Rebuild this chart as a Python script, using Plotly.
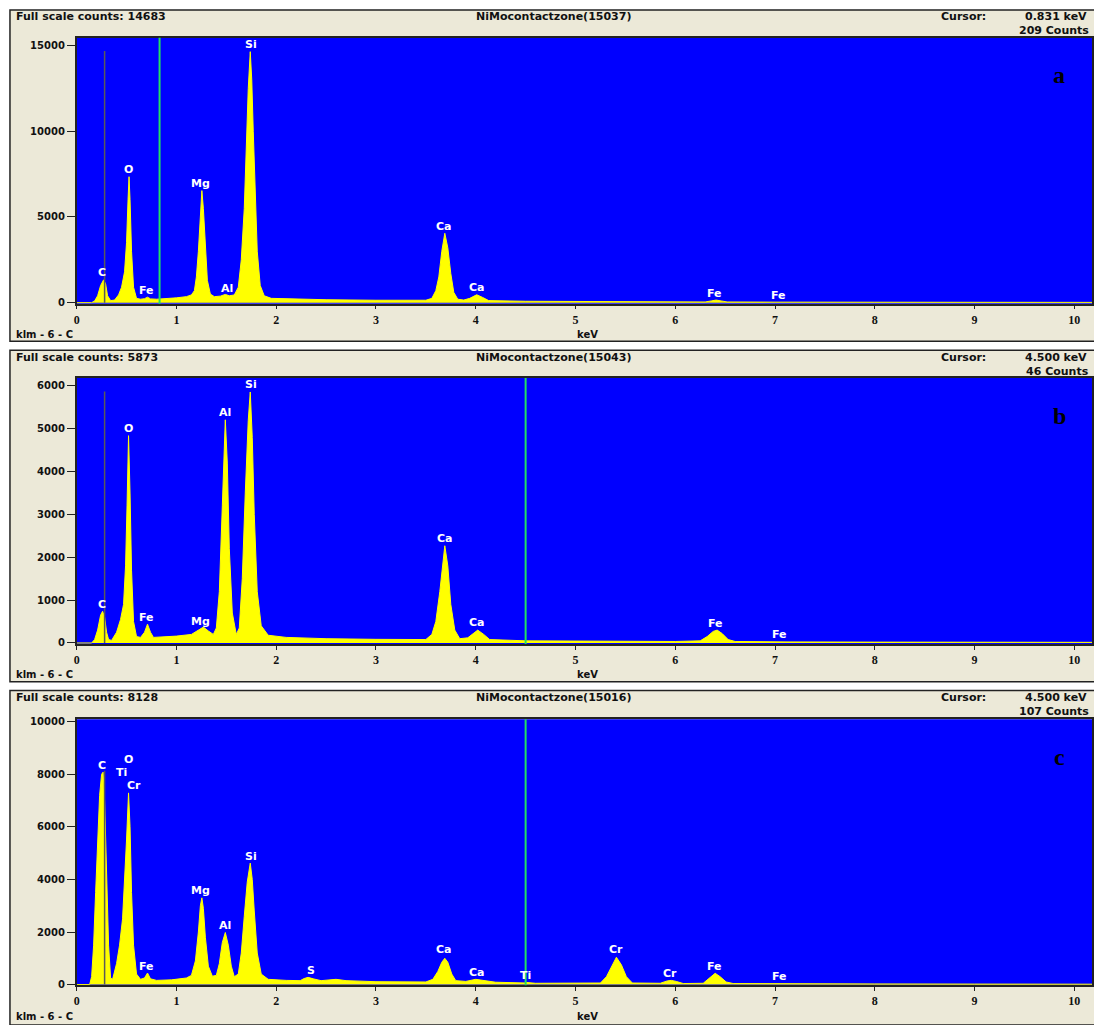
import plotly.graph_objects as go

W, H = 1094, 1025

# ---------------- data ----------------
energy_a = [0.00, 0.15, 0.18, 0.21, 0.24, 0.27, 0.29, 0.31, 0.34, 0.38, 0.42, 0.45, 0.48, 0.50, 0.515, 0.525,
            0.535, 0.55, 0.57, 0.60, 0.64, 0.68, 0.71, 0.74, 0.80, 0.90, 1.00, 1.10, 1.15, 1.18, 1.20, 1.22,
            1.24, 1.255, 1.27, 1.29, 1.31, 1.34, 1.38, 1.44, 1.49, 1.53, 1.58, 1.62, 1.65, 1.68, 1.70, 1.72,
            1.74, 1.755, 1.77, 1.79, 1.81, 1.84, 1.88, 1.95, 2.10, 2.50, 3.00, 3.50, 3.56, 3.60, 3.63, 3.66,
            3.69, 3.72, 3.75, 3.78, 3.82, 3.88, 3.94, 4.01, 4.07, 4.13, 4.50, 5.00, 5.50, 6.00, 6.30, 6.36,
            6.41, 6.46, 6.52, 7.00, 7.06, 7.12, 8.00, 9.00, 10.20]
counts_a = [0, 0, 100, 400, 1000, 1330, 1100, 400, 120, 150, 450, 900, 1800, 3500, 6000, 7350,
            6000, 3000, 900, 250, 200, 230, 320, 220, 200, 230, 280, 350, 450, 700, 1500, 3000,
            5500, 6540, 5500, 3000, 1300, 500, 350, 380, 480, 400, 450, 900, 2500, 5500, 9000, 12500,
            14650, 13000, 10000, 6000, 3000, 1000, 400, 250, 220, 170, 140, 140, 250, 700, 1500, 3000,
            4050, 3200, 1700, 600, 200, 150, 250, 460, 300, 120, 80, 60, 50, 40, 40, 100,
            150, 100, 40, 30, 50, 30, 25, 20, 15]

energy_b = [0.00, 0.15, 0.18, 0.21, 0.24, 0.26, 0.28, 0.30, 0.32, 0.35, 0.40, 0.44, 0.47, 0.49, 0.505, 0.52,
            0.535, 0.55, 0.57, 0.60, 0.64, 0.68, 0.71, 0.74, 0.77, 0.85, 1.00, 1.15, 1.22, 1.27, 1.32, 1.37,
            1.40, 1.43, 1.46, 1.49, 1.51, 1.53, 1.56, 1.60, 1.63, 1.66, 1.69, 1.72, 1.74, 1.76, 1.78, 1.81,
            1.85, 1.92, 2.10, 2.50, 3.00, 3.50, 3.56, 3.60, 3.64, 3.67, 3.69, 3.72, 3.75, 3.79, 3.84, 3.92,
            3.97, 4.02, 4.08, 4.14, 4.50, 5.00, 5.50, 6.00, 6.25, 6.32, 6.38, 6.42, 6.47, 6.53, 6.60, 7.00,
            7.06, 7.12, 8.00, 9.00, 10.20]
counts_b = [0, 0, 80, 300, 650, 740, 600, 250, 80, 60, 250, 550, 900, 1800, 3200, 4840,
            3500, 1700, 500, 150, 130, 250, 440, 250, 130, 140, 160, 200, 300, 370, 280, 200,
            350, 1200, 3200, 5210, 4200, 2200, 700, 200, 350, 1500, 3500, 5200, 5860, 4800, 3000, 1200,
            400, 180, 130, 100, 85, 80, 200, 500, 1200, 1900, 2270, 1800, 900, 300, 100, 120,
            220, 300, 200, 80, 50, 45, 40, 35, 50, 150, 270, 300, 220, 80, 35, 25,
            40, 25, 20, 18, 15]

energy_c = [0.00, 0.13, 0.15, 0.17, 0.19, 0.21, 0.23, 0.25, 0.265, 0.28, 0.30, 0.32, 0.34, 0.36, 0.40, 0.43,
            0.46, 0.48, 0.50, 0.52, 0.535, 0.55, 0.57, 0.60, 0.64, 0.68, 0.71, 0.74, 0.80, 0.95, 1.10, 1.15,
            1.19, 1.22, 1.24, 1.255, 1.27, 1.29, 1.32, 1.36, 1.40, 1.43, 1.46, 1.49, 1.52, 1.55, 1.58, 1.62,
            1.65, 1.68, 1.71, 1.74, 1.76, 1.78, 1.81, 1.85, 1.92, 2.10, 2.24, 2.28, 2.32, 2.37, 2.45, 2.60,
            2.70, 3.00, 3.50, 3.57, 3.62, 3.66, 3.69, 3.72, 3.76, 3.80, 3.90, 4.00, 4.08, 4.20, 4.50, 4.51,
            4.60, 5.00, 5.25, 5.31, 5.36, 5.41, 5.46, 5.51, 5.57, 5.85, 5.92, 5.96, 6.01, 6.08, 6.28, 6.34,
            6.40, 6.45, 6.51, 6.58, 7.00, 7.06, 7.12, 8.00, 9.00, 10.20]
counts_c = [0, 0, 300, 1500, 3500, 5500, 7200, 8000, 8080, 7000, 4500, 1500, 250, 200, 800, 1500,
            2500, 3800, 5500, 7290, 6000, 3500, 1500, 400, 200, 250, 440, 220, 160, 180, 250, 350,
            900, 2000, 3000, 3300, 2900, 1800, 700, 320, 350, 800, 1600, 1980, 1500, 700, 300, 400,
            1200, 2600, 3900, 4620, 4000, 2800, 1200, 400, 200, 160, 150, 230, 275, 220, 150, 200,
            150, 110, 100, 200, 500, 850, 1000, 850, 400, 150, 120, 200, 150, 90, 60, 80,
            50, 40, 60, 300, 700, 1040, 750, 300, 60, 50, 140, 160, 120, 40, 50, 250,
            430, 300, 100, 40, 30, 50, 30, 25, 20, 15]

full_scale = [14683, 5873, 8128]
titles = ["NiMocontactzone(15037)", "NiMocontactzone(15043)", "NiMocontactzone(15016)"]
cursor_kev = [0.831, 4.500, 4.500]
cursor_counts = [209, 46, 107]
panel_letters = ["a", "b", "c"]
marker_kev = 0.28
x_ticks = [0, 1, 2, 3, 4, 5, 6, 7, 8, 9, 10]
y_ticks = [[0, 5000, 10000, 15000],
           [0, 1000, 2000, 3000, 4000, 5000, 6000],
           [0, 2000, 4000, 6000, 8000, 10000]]
y_ranges = [[-58, 15463], [-23, 6185], [-26, 10087]]

labels_a = [("C", 0.257, 1737), ("O", 0.516, 7760), ("Fe", 0.696, 695), ("Mg", 1.245, 6950),
            ("Al", 1.504, 810), ("Si", 1.744, 15058), ("Ca", 3.68, 4460), ("Ca", 4.01, 870),
            ("Fe", 6.39, 520), ("Fe", 7.03, 405)]
labels_b = [("C", 0.257, 903), ("O", 0.516, 5004), ("Fe", 0.696, 602), ("Mg", 1.245, 510),
            ("Al", 1.484, 5375), ("Si", 1.744, 6023), ("Ca", 3.69, 2432), ("Ca", 4.01, 486),
            ("Fe", 6.40, 463), ("Fe", 7.04, 208)]
labels_c = [("C", 0.257, 8350), ("O", 0.516, 8577), ("Ti", 0.446, 8049), ("Cr", 0.576, 7558),
            ("Fe", 0.696, 690), ("Mg", 1.245, 3596), ("Al", 1.484, 2238), ("Si", 1.744, 4879),
            ("S", 2.35, 540), ("Ca", 3.68, 1332), ("Ca", 4.01, 464), ("Ti", 4.50, 350),
            ("Cr", 5.41, 1332), ("Cr", 5.95, 426), ("Fe", 6.39, 690), ("Fe", 7.04, 313)]

energies = [energy_a, energy_b, energy_c]
counts = [counts_a, counts_b, counts_c]
labels = [labels_a, labels_b, labels_c]

# ---------------- layout geometry (pixels) ----------------
frames_px = [(7, 341), (350, 684), (693, 1030)]
plots_px = [(35, 303), (378, 646), (722, 990)]
plot_left, plot_right = 74, 1094


def px(x):
    return x / W


def py(y):
    return 1 - y / H


BLUE = "#0000FF"
BEIGE = "#ECE9D8"
DARK = "#222222"
SANS = "DejaVu Sans"

fig = go.Figure()
layout = dict(width=W, height=H, margin=dict(l=0, r=0, t=0, b=0),
              paper_bgcolor="white", plot_bgcolor=BLUE, showlegend=False)
shapes = []
annotations = []

for i in range(3):
    n = "" if i == 0 else str(i + 1)
    xa, ya = "x" + n, "y" + n
    top, bot = plots_px[i]
    ftop, fbot = frames_px[i]

    # frame
    shapes.append(dict(type="rect", xref="paper", yref="paper", layer="below",
                       x0=px(7), x1=px(1100), y0=py(fbot), y1=py(ftop),
                       fillcolor=BEIGE, line=dict(color=DARK, width=1.5)))
    # blue plot area
    shapes.append(dict(type="rect", xref=xa + " domain", yref=ya + " domain", layer="below",
                       x0=0, x1=1, y0=0, y1=1, fillcolor=BLUE, line=dict(width=0)))

    fig.add_trace(go.Scatter(x=energies[i], y=counts[i], mode="lines", fill="tozeroy",
                             fillcolor="#FFFF00", line=dict(color="#FFFF00", width=1),
                             xaxis=xa, yaxis=ya, hoverinfo="skip"))

    layout["xaxis" + n] = dict(domain=[px(plot_left), px(plot_right)], range=[0, 10.177],
                               anchor=ya, tickvals=x_ticks, ticktext=[str(v) for v in x_ticks],
                               ticks="outside", ticklen=4,
                               tickcolor=DARK, showgrid=False, zeroline=False,
                               showline=True, linecolor=DARK, linewidth=1.5, mirror=True,
                               tickfont=dict(family="Liberation Serif", size=12, color="#111",
                                             weight="bold"))
    layout["yaxis" + n] = dict(domain=[py(bot), py(top)], range=y_ranges[i], anchor=xa,
                               tickvals=y_ticks[i], ticktext=[str(v) for v in y_ticks[i]],
                               ticks="outside", ticklen=8, tickcolor=DARK,
                               showgrid=False, zeroline=False, showline=True, linecolor=DARK,
                               linewidth=1.5, mirror=True,
                               tickfont=dict(family=SANS, size=10, color="#111", weight="bold"))

    # gray marker line and green cursor
    shapes.append(dict(type="line", xref=xa, yref=ya, x0=marker_kev, x1=marker_kev,
                       y0=0, y1=full_scale[i], line=dict(color="#5A5A5A", width=1.5)))
    shapes.append(dict(type="line", xref=xa, yref=ya + " domain", x0=cursor_kev[i],
                       x1=cursor_kev[i], y0=0, y1=1, line=dict(color="#22E060", width=2)))

    # element labels
    for name, xk, yc in labels[i]:
        annotations.append(dict(xref=xa, yref=ya, x=xk, y=yc, text=name, showarrow=False,
                                font=dict(family=SANS, size=11, color="white", weight="bold")))

    # header texts
    hfont = dict(family=SANS, size=11, color="#111", weight="bold")
    ffont = dict(family=SANS, size=10, color="#111", weight="bold")
    annotations.append(dict(xref="paper", yref="paper", x=px(11), y=py(ftop + 7),
                            xanchor="left", yanchor="middle", showarrow=False,
                            text="Full scale counts: %d" % full_scale[i], font=hfont))
    annotations.append(dict(xref="paper", yref="paper", x=px(553), y=py(ftop + 7),
                            xanchor="center", yanchor="middle", showarrow=False,
                            text=titles[i], font=hfont))
    annotations.append(dict(xref="paper", yref="paper", x=px(940), y=py(ftop + 7),
                            xanchor="left", yanchor="middle", showarrow=False,
                            text="Cursor:", font=hfont))
    annotations.append(dict(xref="paper", yref="paper", x=px(1091), y=py(ftop + 7),
                            xanchor="right", yanchor="middle", showarrow=False,
                            text="%.3f keV" % cursor_kev[i], font=hfont))
    annotations.append(dict(xref="paper", yref="paper", x=px(1093), y=py(ftop + 21),
                            xanchor="right", yanchor="middle", showarrow=False,
                            text="%d Counts" % cursor_counts[i], font=hfont))
    # footer texts
    annotations.append(dict(xref="paper", yref="paper", x=px(11), y=py(bot + 31),
                            xanchor="left", yanchor="middle", showarrow=False,
                            text="klm - 6 - C", font=ffont))
    annotations.append(dict(xref="paper", yref="paper", x=px(587), y=py(bot + 31),
                            xanchor="center", yanchor="middle", showarrow=False,
                            text="keV", font=ffont))
    # panel letter
    annotations.append(dict(xref="paper", yref="paper", x=px(1061), y=py(top + 38),
                            xanchor="center", yanchor="middle", showarrow=False,
                            text=panel_letters[i],
                            font=dict(family="Liberation Serif", size=24, color="black",
                                      weight="bold")))

layout["shapes"] = shapes
layout["annotations"] = annotations
fig.update_layout(**layout)
fig.write_html("out.html", config={"displayModeBar": False},
               post_script="document.body.style.margin='0';")
